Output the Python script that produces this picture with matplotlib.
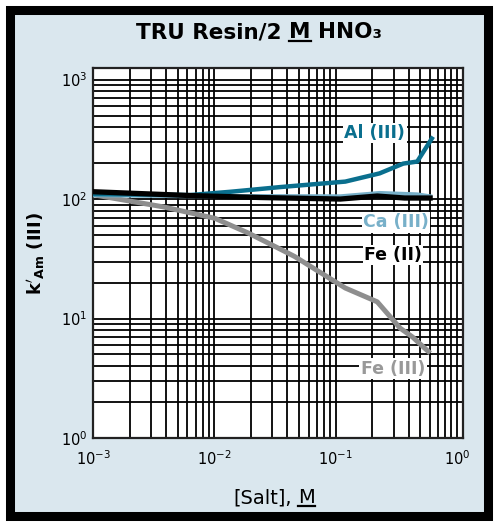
import matplotlib.pyplot as plt
from matplotlib.patches import Rectangle
from matplotlib.lines import Line2D
from matplotlib.ticker import LogLocator, NullFormatter

# --- data (salt conc. in M, k' for Am(III)) ---
fe2_salt = [0.00104, 0.0063, 0.024, 0.109, 0.22, 0.37, 0.60]
fe2_k = [115, 107, 103, 100, 106, 102, 102]

al_salt = [0.00104, 0.003, 0.0063, 0.0135, 0.035, 0.12, 0.23, 0.36, 0.47, 0.62]
al_k = [110, 109, 108, 115, 126, 140, 164, 198, 206, 321]

ca_salt = [0.00104, 0.0063, 0.109, 0.23, 0.47, 0.60]
ca_k = [108, 106, 105, 112, 109, 105]

fe3_salt = [0.00104, 0.0038, 0.0101, 0.019, 0.036, 0.046, 0.12, 0.22, 0.34, 0.43, 0.58]
fe3_k = [108, 86, 69, 52, 37.5, 33, 18, 13.8, 8.3, 7.0, 5.3]

W, H = 496, 522
fig = plt.figure(figsize=(W / 100, H / 100), dpi=100)
fig.patch.set_facecolor('white')

# outer black frame with light blue panel
frame = Rectangle((9.5 / W, 1 - 515.5 / H), 478 / W, 506 / H,
                  transform=fig.transFigure, facecolor='#dae7ee',
                  edgecolor='black', linewidth=6.5, zorder=-1)
fig.add_artist(frame)

ax = fig.add_axes([93 / W, 1 - 438 / H, 370 / W, 370 / H])
ax.set_xscale('log')
ax.set_yscale('log')
ax.set_xlim(1e-3, 1.12)
ax.set_ylim(1, 1250)
ax.set_facecolor('white')

for axis in (ax.xaxis, ax.yaxis):
    axis.set_major_locator(LogLocator(base=10, numticks=10))
    axis.set_minor_locator(LogLocator(base=10, subs=range(2, 10), numticks=20))
    axis.set_minor_formatter(NullFormatter())

ax.grid(True, which='both', color='black', linewidth=1.3)
ax.set_axisbelow(True)
ax.tick_params(which='both', length=0)
ax.tick_params(axis='x', pad=8, labelsize=10.5)
ax.tick_params(axis='y', pad=4, labelsize=10.5)
for sp in ax.spines.values():
    sp.set_linewidth(1.6)
    sp.set_color('#222222')

# curves
ax.plot(fe3_salt, fe3_k, color='#8e8e8e', lw=3.6, solid_joinstyle='round', zorder=3)
ax.plot(ca_salt, ca_k, color='#78b0c9', lw=3.2, zorder=4)
ax.plot(al_salt, al_k, color='#0a6f8e', lw=3.2, zorder=5)
ax.plot(fe2_salt, fe2_k, color='black', lw=3.8, zorder=6)

# curve labels on white patches
labels = [
    ('Al (III)', 0.21, 357, '#0a6f8e', 'bold'),
    ('Ca (III)', 0.315, 64, '#78b0c9', 'bold'),
    ('Fe (II)', 0.297, 34, 'black', 'bold'),
    ('Fe (III)', 0.297, 3.8, '#999999', 'semibold'),
]
for txt, x, y, col, wt in labels:
    ax.text(x, y, txt, color=col, fontsize=12.5, fontweight=wt,
            ha='center', va='center', zorder=7,
            bbox=dict(facecolor='white', edgecolor='none', pad=1.0))

ax.set_ylabel(r"$\mathbf{k'_{Am}}$ (III)", fontsize=13, fontweight='bold')
ax.yaxis.set_label_coords(-0.124, 0.5)


def rich_line(xc, base, pieces, size, weight):
    """text pieces in one line, some underlined (pixel coords from top-left)"""
    r = fig.canvas.get_renderer()

    def width(s):
        t = fig.text(0, 0, s, fontsize=size, fontweight=weight)
        w = t.get_window_extent(r).width
        t.remove()
        return w

    gap = width('M M') - width('MM')
    ws = [width(s) for s, _ in pieces]
    x = xc - (sum(ws) + gap * (len(pieces) - 1)) / 2
    for (s, ul), w in zip(pieces, ws):
        fig.text(x / W, 1 - base / H, s, fontsize=size, fontweight=weight,
                 ha='left', va='baseline')
        if ul:
            fig.add_artist(Line2D([x / W, (x + w) / W], [1 - (base + 3) / H] * 2,
                                  transform=fig.transFigure, color='black', lw=1.6))
        x += w + gap


rich_line(259, 38, [('TRU Resin/2', False), ('M', True), ('HNO\u2083', False)], 15.5, 'bold')
rich_line(274, 503, [('[Salt],', False), ('M', True)], 14, 'normal')

fig.savefig('out.png', dpi=100, facecolor='white')
